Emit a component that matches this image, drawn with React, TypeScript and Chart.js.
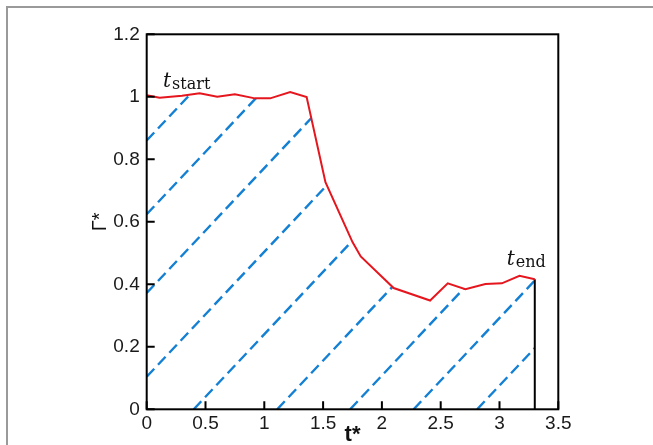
import React, { useEffect, useRef } from "react";
import { Chart, registerables } from "chart.js";
Chart.register(...registerables);

// ---- data ----
const tValues = [0, 0.11, 0.3, 0.45, 0.6, 0.75, 0.92, 1.05, 1.22, 1.36, 1.52, 1.75, 1.82, 2.1, 2.41, 2.56, 2.71, 2.88, 3.02, 3.17, 3.3];
const gammaValues = [1.005, 0.997, 1.003, 1.011, 1.0, 1.008, 0.995, 0.995, 1.015, 0.999, 0.727, 0.535, 0.489, 0.388, 0.348, 0.403, 0.384, 0.401, 0.403, 0.427, 0.416];
const tEnd = 3.3;
const xTicks = [0, 0.5, 1, 1.5, 2, 2.5, 3, 3.5];
const yTicks = [0, 0.2, 0.4, 0.6, 0.8, 1, 1.2];
// hatch lines: Γ* = hatchSlope * (t* - start)
const hatchStarts = [-2.15, -1.56, -0.93, -0.26, 0.4, 1.11, 1.73, 2.27, 2.81];
const hatchSlope = 0.4;
const annotations = [
  { main: "t", sub: "start", x: 0.139, y: 1.032 },
  { main: "t", sub: "end", x: 3.061, y: 0.462 },
];

const W = 653;
const H = 445;
const AREA = { left: 146.7, right: 558.3, top: 34.3, bottom: 409.3 };
const RED = "rgb(230,22,30)";
const BLUE = "rgb(20,128,212)";
const FAMILY = "'Liberation Sans', Arial, sans-serif";
const TICK_FONT = { family: FAMILY, size: 19 };

const decorPlugin = {
  id: "decor",
  beforeDraw(chart: any) {
    const ctx = chart.ctx;
    ctx.save();
    ctx.strokeStyle = "#9a9a9a";
    ctx.lineWidth = 2;
    ctx.beginPath();
    ctx.moveTo(7, H);
    ctx.lineTo(7, 7);
    ctx.lineTo(W, 7);
    ctx.stroke();
    ctx.restore();
  },
  beforeDatasetsDraw(chart: any) {
    const ctx = chart.ctx;
    const xs = chart.scales.x;
    const ys = chart.scales.y;
    const pts = chart.getDatasetMeta(0).data;
    const y0 = ys.getPixelForValue(0);
    ctx.save();
    ctx.beginPath();
    ctx.moveTo(pts[0].x, y0);
    pts.forEach((p: any) => ctx.lineTo(p.x, p.y));
    ctx.lineTo(pts[pts.length - 1].x, y0);
    ctx.closePath();
    ctx.clip();
    ctx.strokeStyle = BLUE;
    ctx.lineWidth = 2.4;
    ctx.setLineDash([11, 5.5]);
    hatchStarts.forEach((s) => {
      ctx.beginPath();
      const ts = Math.max(s, 0);
      ctx.moveTo(xs.getPixelForValue(ts), ys.getPixelForValue(hatchSlope * (ts - s)));
      ctx.lineTo(xs.getPixelForValue(s + 5), ys.getPixelForValue(hatchSlope * 5));
      ctx.stroke();
    });
    ctx.restore();
  },
  afterDraw(chart: any) {
    const ctx = chart.ctx;
    const { left, right, top, bottom } = chart.chartArea;
    const xs = chart.scales.x;
    const ys = chart.scales.y;
    ctx.save();
    ctx.strokeStyle = "#000";
    ctx.lineWidth = 2;
    ctx.strokeRect(left, top, right - left, bottom - top);
    ctx.beginPath();
    xTicks.forEach((v) => {
      const px = xs.getPixelForValue(v);
      ctx.moveTo(px, bottom);
      ctx.lineTo(px, bottom - 8);
    });
    yTicks.forEach((v) => {
      const py = ys.getPixelForValue(v);
      ctx.moveTo(left, py);
      ctx.lineTo(left + 8, py);
    });
    ctx.stroke();
    // annotations
    ctx.fillStyle = "#111";
    ctx.textBaseline = "alphabetic";
    ctx.textAlign = "left";
    annotations.forEach((a) => {
      const px = xs.getPixelForValue(a.x);
      const py = ys.getPixelForValue(a.y);
      ctx.font = "italic 20px 'DejaVu Serif'";
      ctx.fillText(a.main, px, py);
      const w = ctx.measureText(a.main).width;
      ctx.font = "16px 'DejaVu Serif'";
      ctx.fillText(a.sub, px + w + 1, py + 2);
    });
    ctx.restore();
  },
};

export default function App() {
  const ref = useRef<HTMLCanvasElement>(null);
  useEffect(() => {
    if (!ref.current) return;
    const chart = new Chart(ref.current, {
      type: "line",
      data: {
        datasets: [
          {
            data: tValues.map((t, i) => ({ x: t, y: gammaValues[i] })),
            borderColor: RED,
            borderWidth: 2,
            pointRadius: 0,
            tension: 0,
            fill: false,
          },
          {
            data: [
              { x: tEnd, y: 0 },
              { x: tEnd, y: gammaValues[gammaValues.length - 1] },
            ],
            borderColor: "#000",
            borderWidth: 2,
            pointRadius: 0,
            fill: false,
          },
        ],
      },
      options: {
        animation: false,
        responsive: false,
        maintainAspectRatio: false,
        layout: {
          padding: { left: 0, right: W - AREA.right, top: AREA.top, bottom: 0 },
        },
        plugins: { legend: { display: false }, tooltip: { enabled: false } },
        scales: {
          x: {
            type: "linear",
            min: 0,
            max: 3.5,
            grid: { display: false, drawTicks: false },
            border: { display: false },
            afterBuildTicks: (s: any) => {
              s.ticks = xTicks.map((v) => ({ value: v }));
            },
            ticks: {
              font: TICK_FONT,
              color: "#1a1a1a",
              padding: 3,
              maxRotation: 0,
              autoSkip: false,
              callback: (v: any) => String(v),
            },
            title: {
              display: true,
              text: "t*",
              color: "#111",
              font: { family: FAMILY, size: 22, weight: "bold" },
              padding: { top: 0, bottom: -3 },
            },
            afterFit: (s: any) => {
              s.height = H - AREA.bottom;
            },
          },
          y: {
            type: "linear",
            min: 0,
            max: 1.2,
            grid: { display: false, drawTicks: false },
            border: { display: false },
            afterBuildTicks: (s: any) => {
              s.ticks = yTicks.map((v) => ({ value: v }));
            },
            ticks: {
              font: TICK_FONT,
              color: "#1a1a1a",
              padding: 7,
              autoSkip: false,
              callback: (v: any) => String(v),
            },
            title: {
              display: true,
              text: "Γ*",
              color: "#111",
              font: { family: FAMILY, size: 20 },
              padding: { top: 88, bottom: 0 },
            },
            afterFit: (s: any) => {
              s.width = AREA.left;
            },
          },
        },
      },
      plugins: [decorPlugin],
    });
    return () => chart.destroy();
  }, []);
  return (
    <div style={{ position: "absolute", left: 0, top: 0, width: W, height: H, background: "#fff" }}>
      <canvas ref={ref} width={W} height={H} style={{ display: "block", width: W, height: H }} />
    </div>
  );
}
